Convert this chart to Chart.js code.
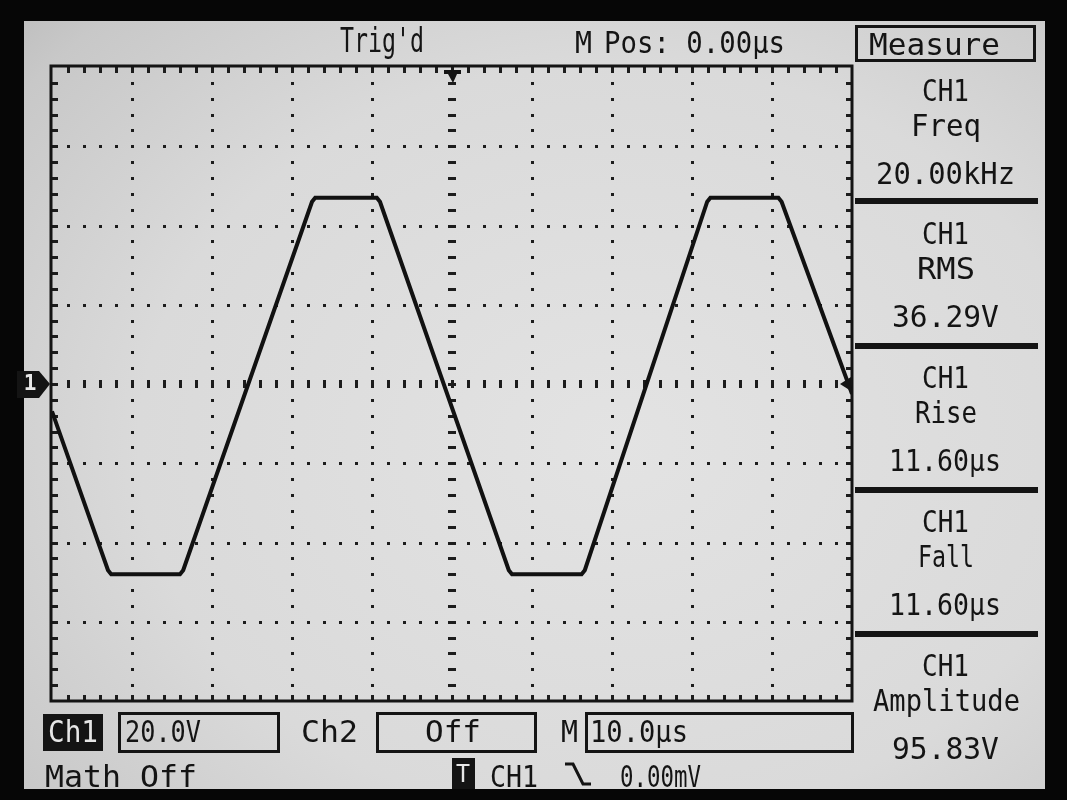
<!DOCTYPE html>
<html>
<head>
<meta charset="utf-8">
<script src="https://cdn.jsdelivr.net/npm/chart.js@4.4.0/dist/chart.umd.min.js"></script>
<style>
html, body { margin:0; padding:0; background:#060606; }
#stage { position:relative; width:1067px; height:800px; overflow:hidden; background:#060606; }
#screen { position:absolute; left:24px; top:21px; width:1021px; height:768px; overflow:hidden;
  background: radial-gradient(ellipse 85% 90% at 58% 55%, #e3e3e3 0%, #dadada 55%, #c8c8c8 85%, #b6b6b6 100%); }
#scope { position:absolute; left:0; top:0; z-index:2; }
#ui { position:absolute; left:0; top:0; width:1067px; height:800px; z-index:3; overflow:hidden; }
.t { position:absolute; font-family:'DejaVu Sans Mono', monospace; font-size:31px; line-height:1;
  color:#141414; white-space:nowrap; transform-origin:0 0; }
.box { position:absolute; border:3px solid #141414; box-sizing:border-box; }
.inv { position:absolute; background:#141414; }
.bar { position:absolute; left:855px; width:183px; height:6px; background:#141414; }
</style>
</head>
<body>
<div id="stage">
  <div id="screen"></div>
  <canvas id="scope" width="1067" height="800"></canvas>
  <div id="ui"></div>
</div>
<script>
// CH1 trace (time in µs, voltage in V)
const timeUs   = [-50, -43.0, -42.6, -34.0, -33.6, -17.5, -17.1, -9.4, -9.0, 7.1, 7.5, 16.2, 16.6, 31.9, 32.3, 40.8, 41.2, 50];
const ch1Volts = [-6.9, -47.0, -48.0, -48.0, -47.0, 46.0, 47.0, 47.0, 46.0, -47.0, -48.0, -48.0, -47.0, 46.0, 47.0, 47.0, 46.0, -2.5];

// screen: 10 x 8 divisions, 10.0µs/div and 20.0V/div
const timeRange = [-50, 50];
const voltRange = [-80, 80];
const timeDiv = 10, voltDiv = 20, subDivs = 5;

const measureNames  = ['Freq', 'RMS', 'Rise', 'Fall', 'Amplitude'];
const measureValues = ['20.00kHz', '36.29V', '11.60µs', '11.60µs', '95.83V'];
const ch1Scale = '20.0V';
const ch2State = 'Off';
const timeScale = '10.0µs';
const trigLevel = '0.00mV';

// grid, border ticks and markers drawn like the scope LCD
const scopeGrid = {
    id: 'scopeGrid',
    beforeDatasetsDraw(chart) {
        const { ctx, chartArea: a, scales } = chart;
        const xs = scales.x, ys = scales.y;
        const px = v => Math.round(xs.getPixelForValue(v));
        const py = v => Math.round(ys.getPixelForValue(v));
        const xStep = timeDiv / subDivs, yStep = voltDiv / subDivs;
        ctx.save();
        ctx.fillStyle = '#1c1c1c';

        // dotted division lines
        for (let v = timeRange[0] + timeDiv; v < timeRange[1]; v += timeDiv) {
            if (Math.abs(v) < 1e-6) continue;
            for (let w = voltRange[0] + yStep; w < voltRange[1] - 1e-6; w += yStep) {
                ctx.fillRect(px(v) - 1, py(w) - 1, 3, 3);
            }
        }
        for (let w = voltRange[0] + voltDiv; w < voltRange[1]; w += voltDiv) {
            if (Math.abs(w) < 1e-6) continue;
            for (let v = timeRange[0] + xStep; v < timeRange[1] - 1e-6; v += xStep) {
                ctx.fillRect(px(v) - 1, py(w) - 1, 3, 3);
            }
        }
        // centre cross with dashes
        for (let w = voltRange[0] + yStep; w < voltRange[1] - 1e-6; w += yStep) {
            ctx.fillRect(px(0) - 4, py(w) - 1, 8, 3);
        }
        for (let v = timeRange[0] + xStep; v < timeRange[1] - 1e-6; v += xStep) {
            ctx.fillRect(px(v) - 1, py(0) - 4, 3, 8);
        }
        // border ticks
        for (let v = timeRange[0] + xStep; v < timeRange[1] - 1e-6; v += xStep) {
            ctx.fillRect(px(v) - 1, a.top, 3, 6);
            ctx.fillRect(px(v) - 1, a.bottom - 6, 3, 6);
        }
        for (let w = voltRange[0] + yStep; w < voltRange[1] - 1e-6; w += yStep) {
            ctx.fillRect(a.left, py(w) - 1, 6, 3);
            ctx.fillRect(a.right - 6, py(w) - 1, 6, 3);
        }
        // border
        ctx.strokeStyle = '#141414';
        ctx.lineWidth = 3;
        ctx.strokeRect(a.left - 1, a.top - 1, a.right - a.left + 1, a.bottom - a.top + 1);
        ctx.restore();
    },
    afterDatasetsDraw(chart) {
        const { ctx, chartArea: a, scales } = chart;
        const cx = Math.round(scales.x.getPixelForValue(0));
        const cy = Math.round(scales.y.getPixelForValue(0));
        ctx.save();
        ctx.fillStyle = '#141414';
        // trigger position marker (top)
        ctx.beginPath();
        ctx.moveTo(cx - 8, a.top + 3);
        ctx.lineTo(cx + 9, a.top + 3);
        ctx.lineTo(cx + 9, a.top + 7);
        ctx.lineTo(cx + 5, a.top + 7);
        ctx.lineTo(cx + 1, a.top + 16);
        ctx.lineTo(cx - 4, a.top + 7);
        ctx.lineTo(cx - 8, a.top + 7);
        ctx.closePath();
        ctx.fill();
        // trigger level marker (right edge)
        ctx.beginPath();
        ctx.moveTo(a.right - 1, cy - 7);
        ctx.lineTo(a.right - 1, cy + 7);
        ctx.lineTo(a.right - 12, cy);
        ctx.closePath();
        ctx.fill();
        // CH1 ground marker
        ctx.beginPath();
        ctx.moveTo(17, cy - 13);
        ctx.lineTo(39, cy - 13);
        ctx.lineTo(50, cy);
        ctx.lineTo(39, cy + 14);
        ctx.lineTo(17, cy + 14);
        ctx.closePath();
        ctx.fill();
        ctx.fillStyle = '#e8e8e8';
        ctx.font = 'bold 21px "DejaVu Sans Mono", monospace';
        ctx.textAlign = 'center';
        ctx.textBaseline = 'middle';
        ctx.fillText('1', 30, cy + 1);
        ctx.restore();
    }
};

new Chart(document.getElementById('scope'), {
    type: 'line',
    data: {
        datasets: [{
            data: timeUs.map((t, i) => ({ x: t, y: ch1Volts[i] })),
            borderColor: '#111111',
            borderWidth: 4,
            pointRadius: 0,
            tension: 0,
            fill: false
        }]
    },
    options: {
        responsive: false,
        animation: false,
        devicePixelRatio: 1,
        layout: { padding: { left: 52, top: 67, right: 215, bottom: 99 } },
        scales: {
            x: { type: 'linear', min: timeRange[0], max: timeRange[1], display: false },
            y: { type: 'linear', min: voltRange[0], max: voltRange[1], display: false }
        },
        plugins: { legend: { display: false }, tooltip: { enabled: false } }
    },
    plugins: [scopeGrid]
});

// ---- LCD text ----
const ui = document.getElementById('ui');

function el(cls, x, y, w, h) {
    const d = document.createElement('div');
    d.className = cls;
    d.style.left = x + 'px';
    d.style.top = y + 'px';
    if (w !== undefined) d.style.width = w + 'px';
    if (h !== undefined) d.style.height = h + 'px';
    ui.appendChild(d);
    return d;
}

// text fitted to a width; x is the left edge, or the centre when centred
function txt(str, x, capTop, w, centred, color, size) {
    const d = document.createElement('div');
    d.className = 't';
    d.textContent = str;
    if (size) d.style.fontSize = size + 'px';
    if (color) d.style.color = color;
    ui.appendChild(d);
    const fs = size || 31;
    d.style.top = (capTop - Math.round(fs * 0.12)) + 'px';
    const nat = d.getBoundingClientRect().width;
    d.style.left = (centred ? x - w / 2 : x) + 'px';
    d.style.transform = 'scaleX(' + (w / nat).toFixed(3) + ')';
    return d;
}

// top line
txt("Trig'd", 340, 28, 84, false, null, 33);
txt('M', 575, 31, 17);
txt('Pos: 0.00µs', 604, 31, 181);
el('box', 855, 25, 181, 37);
txt('Measure', 869, 33, 131);

// measure panel
const panelX = 945;
const sectionTop = [79, 222, 366, 510, 654];
const barTop = [198, 343, 487, 631];
const nameW = [70, 58, 62, 56, 147];
const valueW = [139, 107, 112, 112, 107];
measureNames.forEach((name, i) => {
    const c = sectionTop[i];
    txt('CH1', panelX, c, 47, true);
    txt(name, panelX + 1, c + 35, nameW[i], true);
    txt(measureValues[i], panelX, c + 83, valueW[i], true);
});
barTop.forEach(y => el('bar', 855, y));

// bottom status lines
el('inv', 43, 714, 60, 37);
txt('Ch1', 73, 720, 50, true, '#e6e6e6');
el('box', 118, 712, 162, 41);
txt(ch1Scale, 125, 720, 76);
txt('Ch2', 301, 720, 57);
el('box', 376, 712, 161, 41);
txt(ch2State, 453, 720, 56, true);
txt('M', 561, 720, 17);
el('box', 585, 712, 269, 41);
txt(timeScale, 590, 720, 98);
txt('Math Off', 45, 765, 152);
el('inv', 452, 758, 23, 31);
txt('T', 463, 765, 14, true, '#e6e6e6', 24);
txt('CH1', 490, 765, 48);
txt(trigLevel, 620, 765, 81);

// falling edge symbol
const edge = document.createElementNS('http://www.w3.org/2000/svg', 'svg');
edge.setAttribute('width', '30');
edge.setAttribute('height', '30');
edge.style.position = 'absolute';
edge.style.left = '563px';
edge.style.top = '760px';
edge.innerHTML = '<polyline points="2,4 10,4 20,24 28,24" fill="none" stroke="#141414" stroke-width="3"/>';
ui.appendChild(edge);
</script>
</body>
</html>
